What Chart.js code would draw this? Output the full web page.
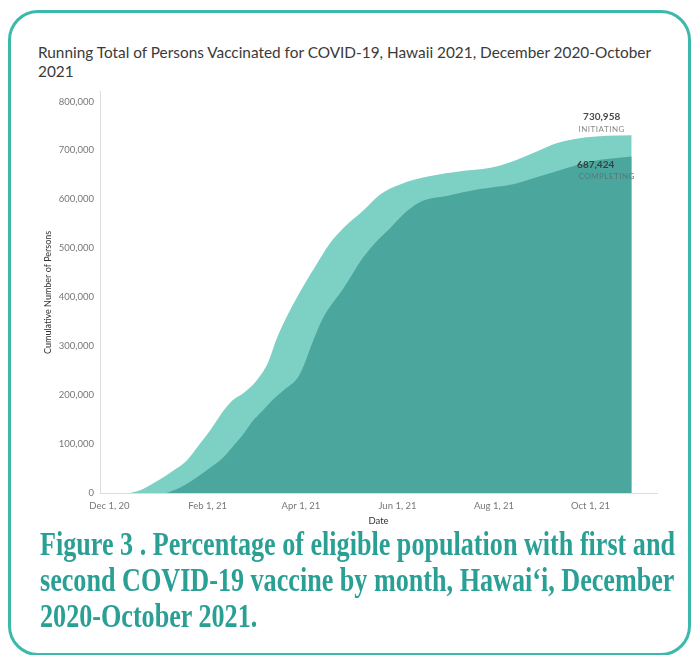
<!DOCTYPE html>
<html>
<head>
<meta charset="utf-8">
<script src="https://cdn.jsdelivr.net/npm/chart.js@4.4.0/dist/chart.umd.min.js"></script>
<style>
  html, body { margin: 0; padding: 0; background: #fff; width: 692px; height: 655px; overflow: hidden; }
  #frame { position: absolute; left: 8px; top: 10px; width: 677px; height: 640px; border: 3px solid #3cb9aa; border-radius: 30px; }
  #title { position: absolute; left: 38px; top: 43px; font-family: Lato, sans-serif; font-size: 15px; line-height: 19px; color: #3a3a3a; white-space: nowrap; transform-origin: 0 0; }
  #wrap { position: absolute; left: 0; top: 80px; width: 692px; height: 450px; }
  #caption { position: absolute; left: 40px; top: 526px; font-family: "Liberation Serif", serif; font-weight: bold; font-size: 33px; line-height: 36px; color: #2aa095; white-space: nowrap; transform-origin: 0 0; }
</style>
</head>
<body>
<div id="frame"></div>
<div id="title"><span id="t1">Running Total of Persons Vaccinated for COVID-19, Hawaii 2021, December 2020-October</span><br>2021</div>
<div id="wrap"><canvas id="chart"></canvas></div>
<div id="caption"><span id="c1">Figure 3 . Percentage of eligible population with first and</span><br>second COVID-19 vaccine by month, Hawai‘i, December<br>2020-October 2021.</div>
<script>
// Running totals: persons who initiated the series (first dose)
const initiatingDates = [
  '2020-12-14','2020-12-19','2020-12-26','2021-01-02','2021-01-10','2021-01-19','2021-01-27',
  '2021-02-03','2021-02-11','2021-02-17','2021-02-24','2021-03-04','2021-03-11','2021-03-17',
  '2021-03-25','2021-04-02','2021-04-11','2021-04-19','2021-04-28','2021-05-10','2021-05-21',
  '2021-06-03','2021-06-21','2021-07-12','2021-07-29','2021-08-13','2021-08-28','2021-09-10',
  '2021-09-24','2021-10-11','2021-10-27'
];
const initiatingValues = [
  0, 4000, 15000, 28000, 45000, 67000, 100000,
  130000, 168000, 190000, 205000, 230000, 265000, 318000,
  373000, 420000, 468000, 509000, 542000, 576000, 610000,
  631000, 647000, 658000, 664000, 678000, 698000, 715000,
  725000, 730000, 730958
];

// Running totals: persons who completed the series
const completingDates = [
  '2021-01-06','2021-01-15','2021-01-22','2021-01-29','2021-02-05','2021-02-11','2021-02-17',
  '2021-02-24','2021-03-01','2021-03-08','2021-03-14','2021-03-21','2021-03-30','2021-04-03',
  '2021-04-07','2021-04-15','2021-04-28','2021-05-10','2021-05-19','2021-05-27','2021-06-07',
  '2021-06-17','2021-07-02','2021-07-23','2021-08-13','2021-08-30','2021-09-16','2021-10-02',
  '2021-10-27'
];
const completingValues = [
  0, 12000, 25000, 41000, 57000, 73000, 95000,
  122000, 145000, 169000, 190000, 210000, 236000, 262000,
  297000, 358000, 419000, 480000, 515000, 540000, 576000,
  597000, 607000, 621000, 631000, 647000, 664000, 678000,
  687424
];

const seriesNames = ['INITIATING', 'COMPLETING'];

const xTickDates = ['2020-12-01','2021-02-01','2021-04-01','2021-06-01','2021-08-01','2021-10-01'];
const xTickLabels = ['Dec 1, 20','Feb 1, 21','Apr 1, 21','Jun 1, 21','Aug 1, 21','Oct 1, 21'];
const xRange = ['2020-11-25','2021-11-12'];
const yTicks = [0, 100000, 200000, 300000, 400000, 500000, 600000, 700000, 800000];
const yMax = 820000;

// x positions are days counted from Dec 1, 2020
const EPOCH = Date.UTC(2020, 11, 1);
const toDay = s => (Date.parse(s + 'T00:00:00Z') - EPOCH) / 86400000;
const toPoints = (dates, vals) => dates.map((d, i) => ({ x: toDay(d), y: vals[i] }));

const fmt = v => v.toLocaleString('en-US');

// end-of-series labels: value and series name next to the last point
const endLabels = {
  id: 'endLabels',
  afterDatasetsDraw(chart) {
    const ctx = chart.ctx;
    ctx.save();
    ctx.textAlign = 'center';
    ctx.textBaseline = 'middle';
    chart.data.datasets.forEach((ds, i) => {
      const meta = chart.getDatasetMeta(i);
      const last = meta.data[meta.data.length - 1];
      const val = ds.data[ds.data.length - 1].y;
      const above = ds.labelSide === 'above';
      const cx = above ? last.x - 30 : last.x - 36;
      const vy = above ? last.y - 18 : last.y + 8;
      ctx.fillStyle = ds.valueColor;
      ctx.font = 'bold 10px Lato, sans-serif';
      ctx.fillText(fmt(val), cx, vy);
      ctx.fillStyle = ds.nameColor;
      ctx.font = '8px Lato, sans-serif';
      if ('letterSpacing' in ctx) ctx.letterSpacing = '0.5px';
      ctx.fillText(ds.label, above ? cx : cx + 11, vy + 12);
      if ('letterSpacing' in ctx) ctx.letterSpacing = '0px';
    });
    ctx.restore();
  }
};

new Chart(document.getElementById('chart'), {
  type: 'line',
  data: {
    datasets: [
      {
        label: seriesNames[1],
        data: toPoints(completingDates, completingValues),
        backgroundColor: '#4ba79e',
        borderWidth: 0,
        fill: 'origin',
        pointRadius: 0,
        cubicInterpolationMode: 'monotone',
        order: 0,
        labelSide: 'below',
        valueColor: '#37403f',
        nameColor: '#5a7774'
      },
      {
        label: seriesNames[0],
        data: toPoints(initiatingDates, initiatingValues),
        backgroundColor: '#7dd0c4',
        borderWidth: 0,
        fill: 'origin',
        pointRadius: 0,
        cubicInterpolationMode: 'monotone',
        order: 1,
        labelSide: 'above',
        valueColor: '#4a4a4a',
        nameColor: '#8a8a8a'
      }
    ]
  },
  options: {
    responsive: true,
    maintainAspectRatio: false,
    animation: false,
    devicePixelRatio: 1,
    layout: { padding: { left: 43, right: 35, top: 10, bottom: 0 } },
    plugins: { legend: { display: false }, tooltip: { enabled: false } },
    scales: {
      x: {
        type: 'linear',
        min: toDay(xRange[0]),
        max: toDay(xRange[1]),
        grid: { display: false, drawTicks: false },
        border: { display: true, color: '#dcdcdc', width: 1 },
        afterBuildTicks: s => { s.ticks = xTickDates.map(d => ({ value: toDay(d) })); },
        afterFit: s => { s.height = 37; },
        ticks: {
          padding: 7,
          maxRotation: 0,
          autoSkip: false,
          color: '#777',
          font: { family: 'Lato, sans-serif', size: 9.5 },
          callback: v => { const i = xTickDates.findIndex(d => toDay(d) === v); return i >= 0 ? xTickLabels[i] : ''; }
        },
        title: { display: true, text: 'Date', color: '#333', font: { family: 'Lato, sans-serif', size: 9.5 }, padding: { top: 0, bottom: 3 } }
      },
      y: {
        min: 0,
        max: yMax,
        grid: { display: false, drawTicks: false },
        border: { display: true, color: '#dcdcdc', width: 1 },
        afterBuildTicks: s => { s.ticks = yTicks.map(v => ({ value: v })); },
        afterFit: s => { s.width = 57; },
        ticks: {
          padding: 6,
          color: '#777',
          font: { family: 'Lato, sans-serif', size: 9.5 },
          callback: v => fmt(v)
        },
        title: { display: true, text: 'Cumulative Number of Persons', color: '#333', font: { family: 'Lato, sans-serif', size: 9 }, padding: { top: 0, bottom: 0 } }
      }
    }
  },
  plugins: [endLabels]
});

// fit the heading and caption lines to their printed widths
function fitWidth(boxId, spanId, target) {
  const w = document.getElementById(spanId).getBoundingClientRect().width;
  document.getElementById(boxId).style.transform = 'scaleX(' + (target / w) + ')';
}
fitWidth('title', 't1', 613);
fitWidth('caption', 'c1', 635);
</script>
</body>
</html>
